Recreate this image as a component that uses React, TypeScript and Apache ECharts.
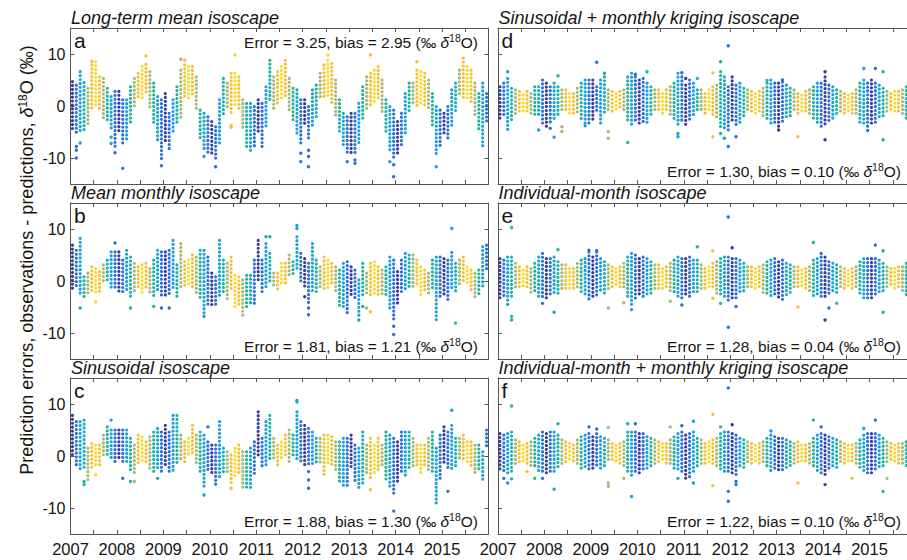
import React, { useEffect, useRef } from "react";
import * as echarts from "echarts";

// ---------- labels / ticks ----------
const YEAR_LABELS = [2007, 2008, 2009, 2010, 2011, 2012, 2013, 2014, 2015];
const TICK_YEARS = [2007, 2008, 2009, 2010, 2011, 2012, 2013, 2014, 2015, 2016];
const Y_TICKS = [-10, 0, 10];
const START_YEAR = 2007;

// colour of each calendar month (Jan..Dec)
const MONTH_COLORS = [
  "#3b3a9c", "#2a72d5", "#1ba1dc", "#1fb3a5", "#a3bb76", "#f6bf3b",
  "#f5dc2b", "#f6bf3b", "#a3bb76", "#1fb3a5", "#1ba1dc", "#2a72d5",
];

const TITLES = [
  "Long-term mean isoscape",
  "Mean monthly isoscape",
  "Sinusoidal isoscape",
  "Sinusoidal + monthly kriging isoscape",
  "Individual-month isoscape",
  "Individual-month + monthly kriging isoscape",
];
const LETTERS = ["a", "b", "c", "d", "e", "f"];
const ERRORS = ["3.25", "1.81", "1.88", "1.30", "1.28", "1.22"];
const BIASES = ["2.95", "1.21", "1.30", "0.10", "0.04", "0.10"];

// ---------- per-month ranges (Jan 2007 .. Dec 2015), low / high of the dense column ----------
const aLo = [
  -4.9, -5.3, -5.3, -5.0, -4.0, -0.8, 0.0, -0.8, -2.7, -3.3, -4.6, -8.1,
  -5.3, -7.8, -6.9, -3.3, -0.1, 1.2, 1.2, 2.4, -0.8, -3.3, -6.5, -10.4,
  -7.2, -8.5, -5.3, -3.3, -2.7, 1.2, 1.2, 1.8, -0.8, -6.5, -8.5, -9.1,
  -9.7, -10.4, -7.2, -2.1, -0.8, -1.4, -0.1, -0.8, -4.6, -7.8, -9.1, -7.8,
  -5.3, -8.5, -4.0, 1.2, -0.8, 0.5, 1.2, 1.8, -0.8, -2.7, -5.3, -7.8,
  -4.0, -6.5, -4.0, -2.7, 1.2, 1.2, 1.8, 0.5, -2.1, -5.3, -7.8, -9.1,
  -9.1, -9.1, -7.2, -2.7, -0.8, -0.1, 0.5, 1.2, -1.4, -5.3, -9.1, -10.4,
  -9.7, -7.8, -5.3, -1.4, -0.1, -0.1, -0.1, -0.1, -0.8, -4.0, -9.7, -7.8,
  -5.9, -6.5, -4.0, -1.4, 1.8, 1.2, 1.2, 0.5, -2.1, -4.6, -7.8, -3.3,
];
const aHi = [
  4.7, 4.0, 6.6, 4.5, 3.4, 7.9, 8.5, 5.6, 5.3, 3.4, 1.8, 2.8,
  2.8, 1.2, 1.2, 3.7, 5.3, 6.3, 7.6, 8.0, 6.6, 4.4, 1.8, 1.2,
  2.4, -1.4, 1.2, 3.7, 6.9, 7.9, 7.6, 7.6, 5.6, -0.8, -1.4, -2.1,
  -3.0, -4.0, 1.2, 5.3, 4.4, 6.3, 6.3, 5.6, 1.2, 0.5, 0.5, -0.1,
  1.2, 0.5, 3.7, 8.8, 5.6, 6.6, 7.6, 8.8, 5.3, 3.4, 3.1, 1.2,
  1.2, -0.1, 3.1, 4.0, 6.3, 7.9, 8.8, 8.2, 5.0, 1.2, -1.4, -2.1,
  -1.4, -1.4, 0.5, 3.7, 5.6, 6.3, 6.9, 7.6, 5.0, 1.2, -0.1, -0.8,
  -3.0, -1.4, 2.4, 4.4, 4.4, 6.9, 6.6, 6.3, 5.0, 2.4, -0.1, -0.8,
  -1.4, -0.1, 3.1, 4.4, 6.9, 9.2, 7.6, 6.9, 4.4, 2.4, 4.4, 2.4,
];
const aOut = [
  [1, -7.8], [1, -8.5], [1, -10], [2, -7.1], [5, 8.6], [10, -6.0], [10, -7.2], [11, -9.0],
  [13, -12.0], [19, 9.6], [23, -11.5], [28, 9.0], [29, 8.8], [34, -9.7], [37, -11.7],
  [41, -3.8], [41, -4.1], [42, 9.8], [59, -9.1], [59, -10.7], [61, -8.5], [61, -9.7],
  [61, -11.7], [66, 9.8], [71, -10.7], [73, -10.4], [73, -11.0], [77, 9.8], [82, -10.7],
  [83, -11.3], [83, -13.6], [89, 8.5], [94, -11.7],
];

const bLo = [
  -1.7, -1.1, -3.0, -3.0, -3.0, -2.4, -2.4, -2.4, -0.4, 0.2, -1.7, -1.7,
  -2.4, -2.4, -1.7, -3.0, -2.4, -1.1, -2.4, -1.7, -2.4, -3.0, -1.7, -3.0,
  -3.3, -2.4, -1.7, -3.6, -1.7, -1.1, -1.1, -1.7, -2.4, -3.6, -6.2, -4.9,
  -4.9, -4.9, -3.0, -2.4, -3.6, -1.7, -5.5, -4.9, -6.8, -5.5, -4.9, -4.9,
  0.2, -2.4, -1.7, -0.4, -1.1, -1.7, -1.1, -0.4, 0.8, 0.8, 2.1, -0.4,
  -1.7, -4.3, -2.4, -2.4, -1.7, -1.7, -1.7, -1.1, -2.4, -4.9, -4.9, -6.2,
  -3.0, -3.6, -6.8, -3.0, -2.4, -3.0, -2.4, -3.0, -3.0, -3.0, -5.5, -7.5,
  -4.9, -2.4, -1.7, -1.7, -1.1, -1.1, -3.0, -2.4, -3.0, -1.7, -7.5, -3.6,
  -3.0, -3.6, -1.7, -2.4, -1.1, -0.4, -0.4, -1.7, -3.6, -3.0, -1.1, 2.1,
];
const bHi = [
  6.9, 5.9, 8.2, 0.8, 1.5, 2.7, 2.4, 1.8, 3.1, 4.0, 5.6, 5.6,
  5.6, 4.0, 5.9, 4.6, 3.4, 2.7, 3.1, 3.4, 2.4, 4.0, 5.9, 5.6,
  5.6, 5.9, 7.8, 3.1, 7.2, 3.7, 4.0, 5.0, 4.6, 5.9, 5.9, 4.6,
  1.5, 0.8, 7.8, 4.0, 3.4, 4.6, 1.1, 0.8, 0.2, 1.1, 1.1, 4.0,
  7.8, 4.0, 7.2, 5.3, 1.5, 1.5, 3.4, 3.4, 5.0, 3.7, 8.5, 5.3,
  4.3, 3.4, 7.2, 4.0, 2.7, 4.6, 4.0, 3.4, 2.7, 2.1, 3.4, 3.7,
  2.7, 2.1, 0.2, 3.4, 1.5, 3.4, 3.7, 2.7, 2.1, 2.7, 4.6, 4.0,
  1.8, 4.0, 5.3, 5.0, 5.0, 4.0, 2.7, 2.1, 1.5, 4.0, 4.6, 4.6,
  4.3, 4.0, 5.5, 3.4, 4.0, 4.6, 2.7, 2.1, 1.5, 2.1, 6.6, 6.9,
];
const bOut = [
  [2, -5.2], [6, -4.0], [11, 7.3], [15, -5.2], [21, -4.9], [23, -5.2], [25, -5.2],
  [34, -6.8], [50, 8.5], [51, 8.5], [58, 10.1], [58, 10.7], [60, -3.0], [61, -5.2],
  [61, -6.5], [74, -7.5], [75, -4.9], [76, -5.2], [77, -5.9], [83, -8.7], [83, -10.3],
  [98, 10.1], [99, -8.1],
];

const cLo = [
  -0.1, -1.7, -3.0, -2.4, -4.6, -2.4, -1.7, -1.7, -0.4, 0.2, -0.4, -1.1,
  -0.4, -1.7, -1.7, -3.0, -3.6, -1.7, -1.1, -1.7, -2.4, -3.0, -2.4, -3.0,
  -1.7, -3.6, -3.0, -1.7, -1.1, -1.1, 0.2, 0.2, -1.7, -3.6, -6.2, -3.0,
  -3.6, -5.5, -4.3, -3.6, -3.6, -5.5, -4.3, -3.6, -6.2, -6.2, -6.2, -3.6,
  0.2, -2.4, -1.7, -1.1, -0.4, -1.7, -0.4, 0.2, -1.1, -0.4, -1.1, -1.1,
  -1.7, -1.7, -1.7, -1.7, -1.7, -3.6, -1.7, -1.7, -3.0, -4.9, -6.2, -6.2,
  -2.4, -4.9, -6.2, -5.5, -3.6, -4.3, -3.6, -3.0, -1.7, -4.9, -6.2, -7.5,
  -4.9, -3.6, -4.3, -2.4, -2.4, -1.7, -3.6, -1.7, -3.0, -3.6, -9.4, -4.9,
  -1.7, -2.4, -3.0, -2.4, -1.1, -1.1, -1.7, -2.4, -3.6, -3.0, -4.9, 1.5,
];
const cHi = [
  7.8, 6.6, 6.6, 6.9, 1.5, 2.4, 2.1, 2.1, 4.0, 5.6, 5.0, 5.0,
  5.0, 5.0, 5.0, 3.4, 2.1, 4.0, 3.7, 2.7, 3.7, 4.6, 5.3, 4.6,
  5.9, 4.6, 7.8, 7.8, 4.0, 2.7, 3.4, 5.9, 4.0, 4.6, 4.0, 2.7,
  2.1, 2.1, 6.6, 1.5, 0.8, 0.2, 1.5, 2.1, 0.8, 0.8, 1.5, 2.7,
  8.5, 3.4, 6.6, 7.8, 3.4, 2.1, 2.7, 4.0, 5.0, 4.0, 8.5, 6.6,
  5.9, 5.3, 4.6, 3.4, 3.4, 4.0, 4.0, 3.7, 2.7, 2.7, 3.4, 3.4,
  4.0, 2.1, 1.5, 4.6, 2.1, 3.4, 2.1, 3.4, 2.1, 4.6, 4.0, 3.4,
  2.7, 4.6, 4.6, 4.6, 3.4, 2.1, 2.1, 2.1, 3.4, 4.6, 1.5, 4.0,
  5.6, 4.6, 5.9, 3.4, 3.4, 4.0, 2.7, 2.7, 2.1, 2.1, 0.8, 5.0,
];
const cOut = [
  [3, -4.9], [3, -5.5], [6, -3.6], [10, 6.9], [13, -4.3], [15, -4.9], [16, -4.9],
  [22, -4.3], [34, -7.5], [35, 5.6], [41, -6.2], [58, 10.4], [58, 10.7], [61, -3.0],
  [61, -4.6], [61, -6.2], [77, -6.5], [83, -10.6], [97, -6.8], [98, 8.8],
];

const dLo = [
  -2.7, -2.1, -4.6, -2.7, -1.7, -1.4, -1.4, -1.7, -2.1, -2.1, -2.1, -3.3,
  -4.0, -3.3, -2.7, -2.1, -1.4, -1.4, -1.4, -1.4, -1.7, -2.7, -3.3, -3.3,
  -2.7, -1.4, -3.3, -1.4, -1.4, -1.4, -0.8, -0.8, -1.4, -2.7, -4.0, -3.3,
  -3.3, -3.3, -3.3, -2.1, -1.4, -1.4, -1.4, -1.1, -2.1, -2.7, -4.0, -3.3,
  -4.0, -2.7, -2.1, -1.4, -1.4, -1.4, -1.4, -1.7, -2.7, -4.3, -4.9, -4.6,
  -3.3, -4.0, -3.3, -2.1, -1.4, -1.4, -1.4, -1.7, -2.1, -2.7, -3.3, -3.3,
  -4.0, -3.3, -2.7, -2.1, -1.4, -1.4, -1.1, -1.4, -1.7, -2.7, -3.3, -4.0,
  -4.0, -3.3, -2.7, -2.1, -1.4, -1.4, -1.1, -1.4, -1.7, -3.3, -4.0, -4.6,
  -3.3, -3.3, -2.7, -2.1, -1.4, -1.1, -1.4, -1.4, -2.1, -2.7, -3.3, -3.3,
];
const dHi = [
  3.7, 4.4, 5.3, 3.4, 3.1, 2.8, 2.1, 2.8, 2.4, 3.7, 3.7, 5.0,
  4.4, 3.7, 4.4, 3.7, 3.1, 3.1, 2.4, 2.4, 3.4, 4.4, 5.0, 5.0,
  5.0, 3.7, 5.0, 5.6, 3.1, 2.8, 2.4, 2.8, 3.1, 5.6, 6.3, 5.6,
  5.0, 5.3, 4.4, 3.7, 3.1, 3.1, 2.4, 3.1, 3.7, 4.4, 6.3, 5.6,
  4.0, 5.0, 4.4, 3.1, 3.1, 2.4, 3.1, 3.7, 4.0, 6.6, 5.6, 3.7,
  5.6, 4.0, 4.4, 3.4, 3.1, 2.8, 2.4, 2.8, 3.4, 4.4, 5.0, 4.4,
  4.4, 4.6, 4.0, 3.4, 3.1, 2.4, 2.1, 2.8, 3.1, 3.7, 4.4, 4.4,
  5.6, 4.0, 3.7, 3.1, 2.8, 2.4, 2.1, 2.4, 3.1, 4.4, 5.0, 4.4,
  5.0, 4.4, 4.0, 3.4, 2.8, 2.4, 2.8, 2.8, 3.1, 3.7, 4.4, 4.4,
];
const dOut = [
  [2, 6.6], [10, -4.6], [13, -4.3], [14, -6.0], [15, 5.8], [16, -4.0], [16, -4.9],
  [22, -3.8], [25, 8.4], [27, 6.3], [28, -4.9], [28, -6.2], [33, -7.0], [35, 6.1],
  [38, 6.6], [46, -5.3], [46, -5.9], [47, 6.4], [48, 5.3], [51, 5.3], [55, 6.4],
  [55, -5.9], [57, 8.5], [57, -5.3], [58, -6.2], [59, 11.6], [59, -7.8], [61, -5.9],
  [69, 4.9], [72, -4.6], [73, 5.0], [77, -5.9], [84, 6.6], [84, -6.5], [94, 7.2],
  [95, -4.7], [97, 7.2], [99, 6.6], [99, -6.5],
];

const eLo = [
  -3.6, -3.0, -4.3, -3.0, -1.7, -1.7, -1.4, -1.7, -2.4, -2.4, -3.0, -3.6,
  -3.6, -3.0, -2.4, -3.0, -1.7, -1.7, -1.4, -1.4, -1.7, -2.4, -3.0, -3.6,
  -3.0, -3.0, -2.4, -2.4, -1.7, -1.4, -1.1, -1.1, -1.7, -3.6, -4.9, -3.6,
  -3.0, -3.0, -3.0, -2.4, -1.7, -1.7, -1.4, -1.4, -2.4, -2.4, -3.0, -3.6,
  -3.0, -3.0, -2.4, -2.4, -1.7, -1.4, -1.4, -1.7, -2.4, -3.0, -3.6, -4.3,
  -3.6, -3.6, -2.4, -2.4, -1.7, -1.4, -1.4, -1.7, -2.4, -2.4, -3.0, -3.0,
  -3.6, -3.6, -3.0, -2.4, -1.7, -1.7, -1.4, -1.4, -2.4, -3.0, -3.0, -3.6,
  -3.6, -3.0, -2.4, -2.4, -1.7, -1.4, -1.1, -1.4, -1.7, -3.0, -3.6, -3.6,
  -3.6, -3.0, -2.4, -2.4, -1.4, -1.1, -1.4, -1.4, -2.1, -2.7, -3.0, -3.0,
];
const eHi = [
  4.3, 4.0, 4.6, 4.6, 3.4, 2.7, 2.1, 2.7, 2.4, 3.4, 4.6, 5.3,
  4.3, 4.3, 4.6, 3.7, 3.1, 3.1, 2.4, 2.4, 3.4, 4.0, 4.3, 5.6,
  4.6, 5.6, 4.3, 3.7, 3.1, 2.7, 2.4, 2.7, 3.4, 4.6, 5.3, 5.0,
  4.3, 4.6, 4.3, 3.7, 3.1, 3.1, 2.4, 2.7, 3.4, 4.0, 4.6, 4.3,
  4.3, 4.6, 4.0, 4.0, 3.1, 2.4, 2.7, 3.4, 3.7, 4.3, 4.6, 4.6,
  4.3, 4.3, 4.0, 3.4, 2.7, 2.7, 2.4, 2.7, 3.1, 3.7, 4.0, 4.3,
  3.7, 4.0, 3.4, 3.1, 2.7, 2.7, 2.1, 2.4, 2.7, 4.0, 4.3, 4.6,
  4.6, 3.7, 3.4, 3.1, 2.7, 2.4, 2.1, 2.4, 2.7, 3.7, 4.3, 4.3,
  4.3, 4.3, 4.0, 3.4, 2.7, 2.4, 2.4, 2.7, 2.7, 3.4, 4.0, 4.0,
];
const eOut = [
  [2, -4.5], [3, 10.3], [3, -6.8], [3, -7.5], [11, -4.3], [14, -6.0], [15, 6.0],
  [23, 5.9], [25, 5.8], [28, -5.2], [32, -4.2], [34, -5.5], [44, -3.9], [47, -4.6],
  [51, 6.6], [55, 5.8], [55, -3.3], [57, -4.3], [59, 12.3], [59, -8.9], [60, 6.4],
  [61, -4.9], [77, -5.0], [81, 7.4], [83, 5.3], [84, -7.5], [85, -5.2], [87, -4.3],
  [97, 6.9], [99, 5.8], [99, -6.0],
];

const fLo = [
  -3.0, -3.0, -3.6, -3.0, -1.7, -1.4, -1.4, -1.4, -2.1, -2.4, -3.0, -3.0,
  -3.6, -3.6, -3.0, -2.4, -1.7, -1.4, -1.1, -1.1, -1.7, -2.4, -2.4, -3.0,
  -2.4, -2.4, -2.4, -2.4, -1.4, -1.1, -1.1, -1.4, -2.1, -3.0, -4.3, -3.6,
  -3.6, -3.0, -2.4, -2.4, -1.7, -1.4, -1.1, -1.4, -1.7, -2.4, -3.0, -3.6,
  -4.3, -4.3, -3.6, -2.4, -1.7, -1.4, -1.4, -1.7, -2.4, -3.0, -3.6, -3.6,
  -3.6, -3.6, -2.4, -2.4, -1.7, -1.4, -1.4, -1.7, -1.7, -2.4, -3.0, -3.0,
  -3.0, -3.0, -2.4, -2.4, -1.7, -1.4, -1.4, -1.4, -1.7, -2.4, -3.0, -3.6,
  -3.6, -3.0, -2.4, -2.4, -1.4, -1.4, -1.1, -1.4, -1.7, -2.4, -3.0, -3.6,
  -3.6, -3.0, -2.4, -2.4, -1.4, -1.1, -1.1, -1.4, -1.7, -2.1, -2.4, -2.4,
];
const fHi = [
  4.3, 4.0, 4.3, 4.6, 3.1, 2.7, 2.1, 2.4, 2.7, 3.4, 4.0, 4.6,
  4.3, 4.6, 4.6, 4.0, 3.1, 2.7, 2.4, 2.1, 3.1, 3.7, 4.0, 4.3,
  3.7, 4.3, 3.7, 3.4, 3.1, 2.4, 2.1, 2.4, 2.7, 4.6, 4.6, 4.6,
  4.3, 4.3, 3.7, 3.4, 3.1, 2.7, 2.4, 2.4, 3.1, 3.7, 4.3, 4.6,
  4.0, 4.3, 4.6, 3.4, 3.1, 2.4, 2.7, 3.1, 3.4, 4.3, 4.6, 4.6,
  4.3, 4.0, 3.4, 3.1, 2.7, 2.4, 2.1, 2.4, 2.7, 3.4, 4.0, 3.7,
  3.4, 3.4, 3.1, 2.7, 2.4, 2.7, 2.1, 2.1, 2.4, 3.4, 4.0, 4.3,
  4.0, 3.7, 3.4, 3.1, 2.7, 2.4, 2.1, 2.1, 2.4, 3.1, 4.0, 4.3,
  4.3, 4.3, 4.0, 3.4, 2.7, 2.4, 2.1, 2.4, 2.4, 2.7, 3.1, 3.1,
];
const fOut = [
  [1, -4.3], [2, -5.2], [3, 9.6], [3, -4.4], [7, -3.0], [9, -4.3], [11, -4.3],
  [14, -6.4], [15, 6.2], [23, 5.6], [25, 5.2], [28, 5.5], [28, -5.2], [28, -5.8],
  [32, -4.3], [33, 6.2], [34, -7.8], [35, 6.2], [44, 5.6], [46, -4.3], [47, 5.8],
  [50, 6.7], [50, -5.2], [55, 8.0], [55, -5.7], [57, 5.6], [59, 13.1], [59, -6.8],
  [59, -8.7], [60, 6.0], [61, -4.9], [61, -5.5], [70, 4.8], [77, -5.2], [81, 6.9],
  [83, 5.6], [84, -5.5], [91, -4.3], [94, 5.3], [97, 6.9], [99, -6.8], [100, -4.3],
];

const FONT = "'Liberation Sans', Arial, Helvetica, sans-serif";
const AXIS_COLOR = "#555555";
const TEXT_COLOR = "#151515";

const monthX = (m: number) => START_YEAR + (m + 0.5) / 12;

export default function App() {
  const ref = useRef<HTMLDivElement>(null);

  useEffect(() => {
    if (!ref.current) return;
    const chart = echarts.init(ref.current, null, { renderer: "svg" });

    const panels = [
      { lo: aLo, hi: aHi, out: aOut },
      { lo: bLo, hi: bHi, out: bOut },
      { lo: cLo, hi: cHi, out: cOut },
      { lo: dLo, hi: dHi, out: dOut },
      { lo: eLo, hi: eHi, out: eOut },
      { lo: fLo, hi: fHi, out: fOut },
    ];
    const lefts = [70.5, 70.5, 70.5, 498, 498, 498];
    const tops = [28, 203, 378, 28, 203, 378];
    const W = 418;
    const H = 156;
    const errRight = [478, 478, 478, 901, 901, 901];

    const halfTicks: number[] = [];
    TICK_YEARS.forEach((y) => {
      halfTicks.push(y);
      if (y < 2016) halfTicks.push(y + 0.5);
    });

    const grids = panels.map((_, i) => ({
      left: lefts[i],
      top: tops[i],
      width: W,
      height: H,
      containLabel: false,
      outerBoundsMode: "none",
    }));

    const xAxes: any[] = [];
    const yAxes: any[] = [];
    panels.forEach((_, i) => {
      const bottomRow = i % 3 === 2;
      const leftCol = i < 3;
      const base = {
        type: "value",
        gridIndex: i,
        min: 2007,
        max: 2016,
        splitLine: { show: false },
        axisLine: { show: true, onZero: false, lineStyle: { color: AXIS_COLOR, width: 1 } },
        axisTick: {
          show: true,
          inside: true,
          length: 4,
          customValues: halfTicks,
          lineStyle: { color: AXIS_COLOR, width: 1 },
        },
      };
      xAxes.push({
        ...base,
        position: "bottom",
        axisLabel: {
          show: bottomRow,
          customValues: YEAR_LABELS,
          formatter: (v: number) => String(v),
          margin: 6,
          fontSize: 16.5,
          fontFamily: FONT,
          color: TEXT_COLOR,
        },
      });
      xAxes.push({ ...base, position: "top", axisLabel: { show: false } });

      const ybase = {
        type: "value",
        gridIndex: i,
        min: -15,
        max: 15,
        splitLine: { show: false },
        axisLine: { show: true, onZero: false, lineStyle: { color: AXIS_COLOR, width: 1 } },
        axisTick: {
          show: true,
          inside: true,
          length: 4,
          customValues: Y_TICKS,
          lineStyle: { color: AXIS_COLOR, width: 1 },
        },
      };
      yAxes.push({
        ...ybase,
        position: "left",
        axisLabel: {
          show: leftCol,
          customValues: Y_TICKS,
          formatter: (v: number) => String(v),
          margin: 5,
          fontSize: 16,
          fontFamily: FONT,
          color: TEXT_COLOR,
        },
      });
      yAxes.push({ ...ybase, position: "right", axisLabel: { show: false } });
    });

    const series: any[] = [];
    panels.forEach((p, i) => {
      const cols = p.lo.map((lo, m) => [monthX(m), lo, p.hi[m], m % 12]);
      const outs = p.out.map(([m, v]) => [monthX(m), v, m % 12]);
      series.push({
        type: "custom",
        xAxisIndex: 2 * i,
        yAxisIndex: 2 * i,
        silent: true,
        clip: true,
        encode: { x: 0, y: [1, 2] },
        data: cols,
        renderItem: (_params: any, api: any) => {
          const x = api.value(0);
          const top = api.coord([x, api.value(2)]);
          const bot = api.coord([x, api.value(1)]);
          const c = MONTH_COLORS[api.value(3)];
          return {
            type: "line",
            shape: { x1: top[0], y1: top[1], x2: bot[0], y2: bot[1] + 0.01 },
            style: {
              stroke: c,
              lineWidth: 3.2,
              lineDash: [0.01, 3.9],
              lineCap: "round",
            },
          };
        },
      });
      series.push({
        type: "scatter",
        xAxisIndex: 2 * i,
        yAxisIndex: 2 * i,
        silent: true,
        symbolSize: 3.4,
        data: outs,
        itemStyle: { color: (prm: any) => MONTH_COLORS[prm.data[2]], opacity: 1 },
        z: 3,
      });
    });

    const graphics: any[] = [];
    panels.forEach((_, i) => {
      graphics.push({
        type: "text",
        x: lefts[i] + 0.5,
        y: tops[i] - 10,
        silent: true,
        style: {
          text: TITLES[i],
          fontSize: 18,
          fontStyle: "italic",
          fontFamily: FONT,
          fill: TEXT_COLOR,
          align: "left",
          verticalAlign: "middle",
        },
      });
      graphics.push({
        type: "text",
        x: lefts[i] + 3.5,
        y: tops[i] + 12,
        silent: true,
        style: {
          text: LETTERS[i],
          fontSize: 21,
          fontFamily: FONT,
          fill: TEXT_COLOR,
          align: "left",
          verticalAlign: "middle",
        },
      });
      graphics.push({
        type: "text",
        x: errRight[i],
        y: i === 0 ? tops[i] + 14 : tops[i] + H - 13,
        silent: true,
        z: 10,
        style: {
          text: `Error = ${ERRORS[i]}, bias = ${BIASES[i]} (‰ {d|δ}{s|18}O)`,
          fontSize: 15.5,
          fontFamily: FONT,
          fill: TEXT_COLOR,
          align: "right",
          verticalAlign: "middle",
          rich: {
            d: { fontSize: 15.5, fontStyle: "italic", fontFamily: FONT, fill: TEXT_COLOR },
            s: { fontSize: 10.5, fontFamily: FONT, fill: TEXT_COLOR, padding: [0, 0, 8, 0] },
          },
        },
      });
    });
    graphics.push({
      type: "text",
      x: 27,
      y: 260,
      rotation: Math.PI / 2,
      silent: true,
      style: {
        text: "Prediction errors, observations - predictions, {d|δ}{s|18}O (‰)",
        fontSize: 18,
        fontFamily: FONT,
        fill: TEXT_COLOR,
        align: "center",
        verticalAlign: "middle",
        rich: {
          d: { fontSize: 18, fontStyle: "italic", fontFamily: FONT, fill: TEXT_COLOR },
          s: { fontSize: 12, fontFamily: FONT, fill: TEXT_COLOR, padding: [0, 0, 9, 0] },
        },
      },
    });

    chart.setOption({
      animation: false,
      backgroundColor: "#ffffff",
      grid: grids,
      xAxis: xAxes,
      yAxis: yAxes,
      series,
      graphic: { elements: graphics },
    });

    return () => {
      chart.dispose();
    };
  }, []);

  return (
    <div
      style={{
        position: "absolute",
        left: 0,
        top: 0,
        width: 907,
        height: 560,
        overflow: "hidden",
        background: "#ffffff",
      }}
    >
      <div ref={ref} style={{ width: 930, height: 560 }} />
    </div>
  );
}
